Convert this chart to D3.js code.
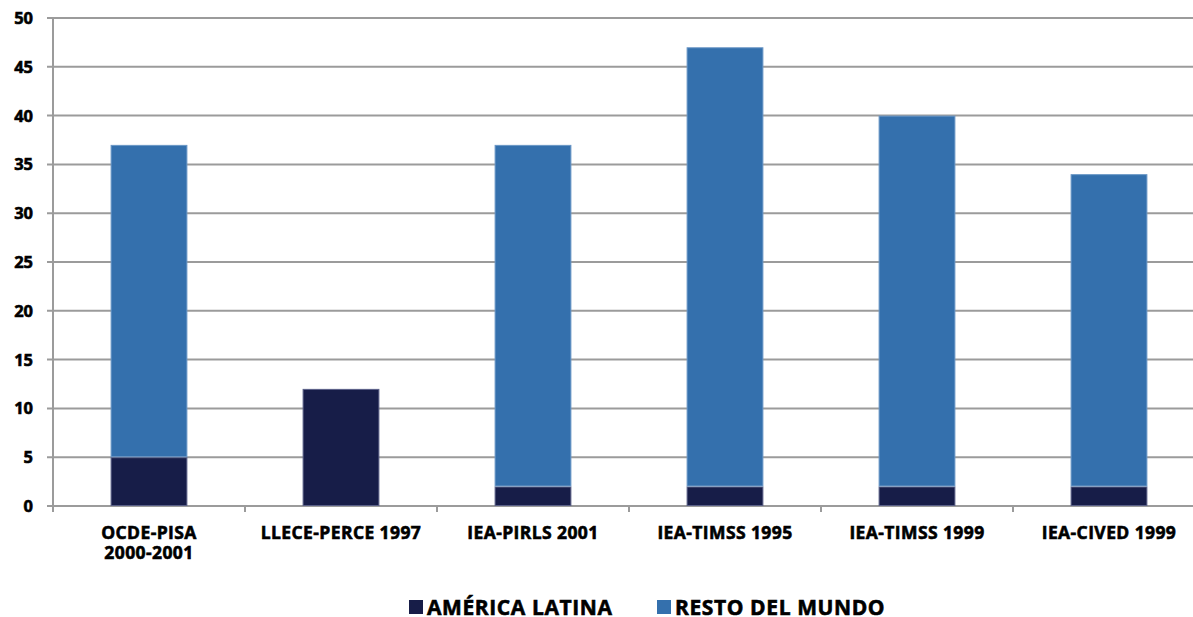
<!DOCTYPE html>
<html>
<head>
<meta charset="utf-8">
<script src="https://cdn.jsdelivr.net/npm/d3@7"></script>
<style>
  body { margin: 0; background: #fff; }
  svg { display: block; font-family: "Open Sans", sans-serif; font-weight: bold; }
  text { fill: #000; stroke: #000; stroke-width: 0.6px; }
</style>
</head>
<body>
<svg id="chart" width="1193" height="617"></svg>
<script>
const categories = [
  ["OCDE-PISA", "2000-2001"],
  ["LLECE-PERCE 1997"],
  ["IEA-PIRLS 2001"],
  ["IEA-TIMSS 1995"],
  ["IEA-TIMSS 1999"],
  ["IEA-CIVED 1999"]
];
const americaLatina = [5, 12, 2, 2, 2, 2];
const restoMundo = [32, 0, 35, 45, 38, 32];
const seriesNames = ["AMÉRICA LATINA", "RESTO DEL MUNDO"];
const yTicks = [0, 5, 10, 15, 20, 25, 30, 35, 40, 45, 50];

const colors = ["#171d48", "#3470ad"];
const strokes = ["#5a6088", "#6a97c6"];

const width = 1193, height = 617;
const margin = { top: 18, left: 53, bottom: 111 };
const plotRight = margin.left + 6 * 192;

const svg = d3.select("#chart");

const labels = categories.map(c => c.join(" "));
const x = d3.scaleBand()
  .domain(labels)
  .range([margin.left, plotRight])
  .paddingInner(0.6)
  .paddingOuter(0.3);

const y = d3.scaleLinear()
  .domain([0, 50])
  .range([height - margin.bottom, margin.top]);

// gridlines
svg.append("g")
  .selectAll("line")
  .data(yTicks)
  .join("line")
  .attr("x1", margin.left - 6)
  .attr("x2", plotRight)
  .attr("y1", d => y(d))
  .attr("y2", d => y(d))
  .attr("stroke", "#9b9b9b")
  .attr("stroke-width", 2);

// y axis line
svg.append("line")
  .attr("x1", margin.left).attr("x2", margin.left)
  .attr("y1", y(50)).attr("y2", y(0) + 6)
  .attr("stroke", "#9b9b9b")
  .attr("stroke-width", 2);

// category ticks
const step = x.step();
svg.append("g")
  .selectAll("line")
  .data(d3.range(1, 7))
  .join("line")
  .attr("x1", i => margin.left + i * step)
  .attr("x2", i => margin.left + i * step)
  .attr("y1", y(0))
  .attr("y2", y(0) + 6)
  .attr("stroke", "#9b9b9b")
  .attr("stroke-width", 2);

// y labels
svg.append("g")
  .selectAll("text")
  .data(yTicks)
  .join("text")
  .attr("x", 33)
  .attr("y", d => y(d))
  .attr("dy", "0.36em")
  .attr("text-anchor", "end")
  .attr("font-size", 16.5)
  .text(d => d);

// stacked bars
const rows = labels.map((l, i) => ({ cat: l, a: americaLatina[i], b: restoMundo[i] }));
const stack = d3.stack().keys(["a", "b"])(rows);

svg.append("g")
  .selectAll("g")
  .data(stack)
  .join("g")
  .attr("fill", (d, i) => colors[i])
  .attr("stroke", (d, i) => strokes[i])
  .attr("stroke-width", 1)
  .selectAll("rect")
  .data(d => d.filter(s => s[1] > s[0]))
  .join("rect")
  .attr("x", d => x(d.data.cat) + 0.5)
  .attr("y", d => y(d[1]) + 0.5)
  .attr("width", x.bandwidth() - 1)
  .attr("height", d => y(d[0]) - y(d[1]) - 1);

// category labels
svg.append("g")
  .selectAll("text")
  .data(categories)
  .join("text")
  .attr("x", (d, i) => x(labels[i]) + x.bandwidth() / 2)
  .attr("y", 539)
  .attr("text-anchor", "middle")
  .attr("font-size", 17.5)
  .attr("letter-spacing", 0.4)
  .selectAll("tspan")
  .data(d => d)
  .join("tspan")
  .attr("x", function () { return this.parentNode.getAttribute("x"); })
  .attr("dy", (d, i) => i === 0 ? 0 : 20)
  .text(d => d);

// legend
const legendX = [409, 657];
const legend = svg.append("g")
  .selectAll("g")
  .data(seriesNames)
  .join("g")
  .attr("transform", (d, i) => `translate(${legendX[i]}, 599)`);

legend.append("rect")
  .attr("y", 1)
  .attr("width", 14)
  .attr("height", 14)
  .attr("fill", (d, i) => colors[i]);

legend.append("text")
  .attr("x", 18)
  .attr("y", 15.5)
  .attr("font-size", 21)
  .attr("letter-spacing", 0.6)
  .text(d => d);
</script>
</body>
</html>
